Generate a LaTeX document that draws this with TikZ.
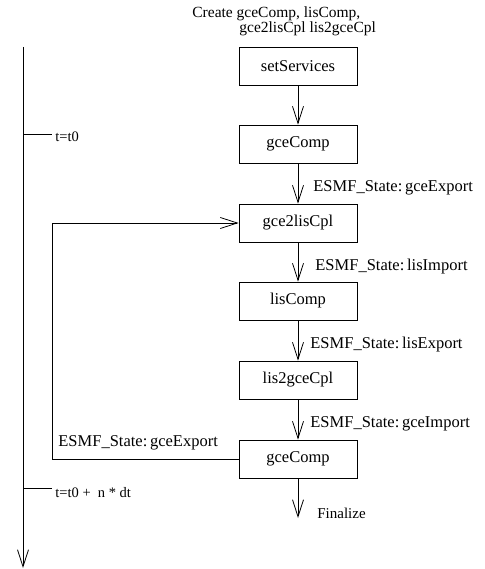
\documentclass[tikz,border=0pt]{standalone}
\usepackage{fontspec}
\setmainfont{Liberation Serif}
\usetikzlibrary{arrows.meta}
\begin{document}
\begin{tikzpicture}[x=1pt,y=-1pt,
  line width=0.8pt,
  box/.style={draw, minimum width=118pt, minimum height=38pt, inner sep=0pt, font=\fontsize{16.5}{18}\selectfont},
  lbl/.style={anchor=west, inner sep=0pt, font=\fontsize{16.5}{18}\selectfont},
  small/.style={anchor=west, inner sep=0pt, font=\fontsize{14.5}{16}\selectfont},
  arr/.style={-{Straight Barb[length=17pt,width=11pt,line width=0.8pt]}}]
\useasboundingbox (0,0) rectangle (484,569);
% top text
\node[anchor=north west, inner sep=0pt, align=left, font=\fontsize{15.5}{15.5}\selectfont] (top) at (192,6)
  {Create gceComp, lisComp,\\\hspace*{47pt}gce2lisCpl lis2gceCpl};
% boxes
\node[box] (s) at (298,66) {setServices};
\node[box] (g1) at (298,144) {gceComp};
\node[box] (c1) at (298,223) {gce2lisCpl};
\node[box] (l) at (298,301) {lisComp};
\node[box] (c2) at (298,380) {lis2gceCpl};
\node[box] (g2) at (298,459) {gceComp};
\coordinate (fin) at (298,518);
% vertical arrows
\draw[arr] (s) -- (g1);
\draw[arr] (g1) -- (c1);
\draw[arr] (c1) -- (l);
\draw[arr] (l) -- (c2);
\draw[arr] (c2) -- (g2);
\draw[arr] (g2) -- (fin);
% labels
\node[lbl] (e1) at (313,188) {ESMF\_State:\,gceExport};
\node[lbl] (e2) at (315,267) {ESMF\_State:\,lisImport};
\node[lbl] (e3) at (310,345) {ESMF\_State:\,lisExport};
\node[lbl] (e4) at (310,424) {ESMF\_State:\,gceImport};
\node[anchor=west, inner sep=0pt, font=\fontsize{15}{17}\selectfont] (fl) at (317,513) {Finalize};
% feedback
\coordinate (fb) at (52,0);
\draw[arr] (g2.west) -- (g2.west -| fb) -- (c1.west -| fb) -- (c1.west);
\node[lbl] (e5) at (58,443) {ESMF\_State:\,gceExport};
% timeline
\coordinate (t0) at (23,47);
\coordinate (t1) at (23,568);
\draw[arr] (t0) -- (t1);
\coordinate (k1) at (23,134);
\coordinate (k2) at (23,488);
\draw (k1) -- ++(29,0);
\draw (k2) -- ++(29,0);
\node[small] (tl1) at (55,137) {t=t0};
\node[small] (tl2) at (55,493) {t=t0 +\ \ n * dt};
\end{tikzpicture}
\end{document}
